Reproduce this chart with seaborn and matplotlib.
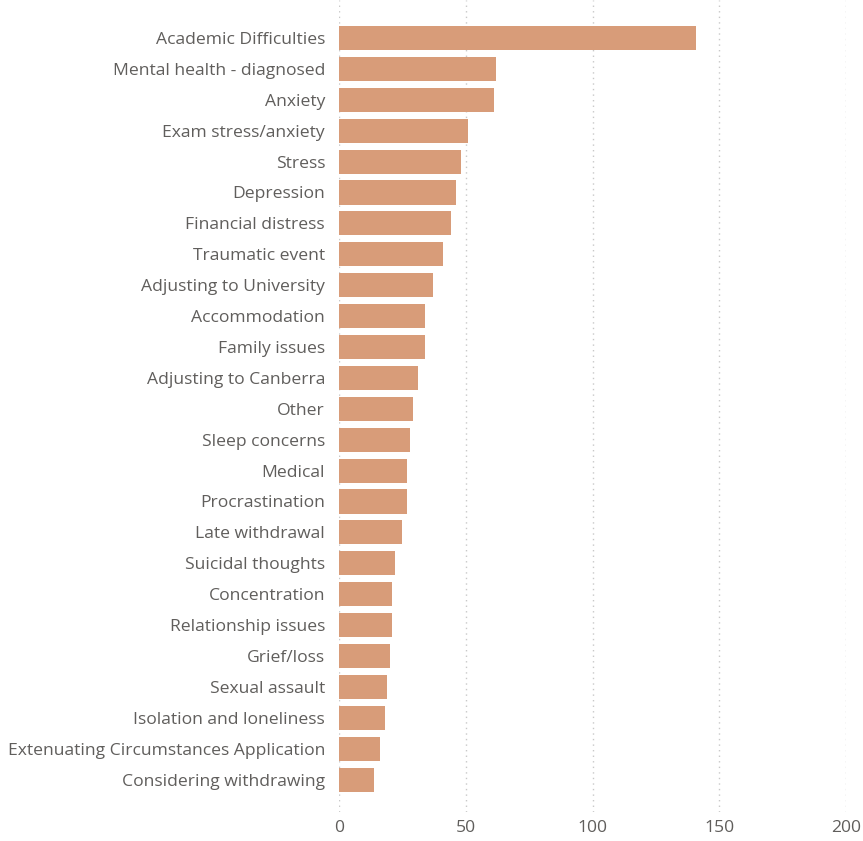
import matplotlib
matplotlib.use("Agg")
import matplotlib.pyplot as plt
import seaborn as sns
import pandas as pd

categories = [
    "Academic Difficulties", "Mental health - diagnosed", "Anxiety",
    "Exam stress/anxiety", "Stress", "Depression", "Financial distress",
    "Traumatic event", "Adjusting to University", "Accommodation",
    "Family issues", "Adjusting to Canberra", "Other", "Sleep concerns",
    "Medical", "Procrastination", "Late withdrawal", "Suicidal thoughts",
    "Concentration", "Relationship issues", "Grief/loss", "Sexual assault",
    "Isolation and loneliness", "Extenuating Circumstances Application",
    "Considering withdrawing",
]
counts = [141, 62, 61, 51, 48, 46, 44, 41, 37, 34, 34, 31, 29, 28, 27, 27,
          25, 22, 21, 21, 20, 19, 18, 16, 14]
xticks = [0, 50, 100, 150, 200]

df = pd.DataFrame({"category": categories, "count": counts})

sns.set_style("white")
plt.rcParams['font.family'] = ['Open Sans', 'DejaVu Sans']

W, H = 863, 841
fig = plt.figure(figsize=(W / 100, H / 100), dpi=100)
left, right, top, bottom = 339, 846, 0, 812
ax = fig.add_axes([left / W, 1 - bottom / H, (right - left) / W, (bottom - top) / H])

sns.barplot(data=df, x="count", y="category", orient="h", color="#D89C79",
            saturation=1, width=0.78, ax=ax, order=categories, linewidth=0)

ax.set_xlim(0, 200)
ax.set_ylim(25.05, -1.23)
ax.set_xticks(xticks)
ax.set_xticklabels([str(t) for t in xticks])
ax.set_xlabel("")
ax.set_ylabel("")
ax.grid(axis="x", color="#C8C8C8", linestyle=(0, (1, 3)), linewidth=1)
ax.set_axisbelow(True)
for s in ax.spines.values():
    s.set_visible(False)
ax.tick_params(axis="y", length=0, pad=10, labelsize=12.6, labelcolor="#605E5C")
ax.tick_params(axis="x", length=0, pad=6, labelsize=12.6, labelcolor="#605E5C")

fig.savefig("out.png", dpi=100)
